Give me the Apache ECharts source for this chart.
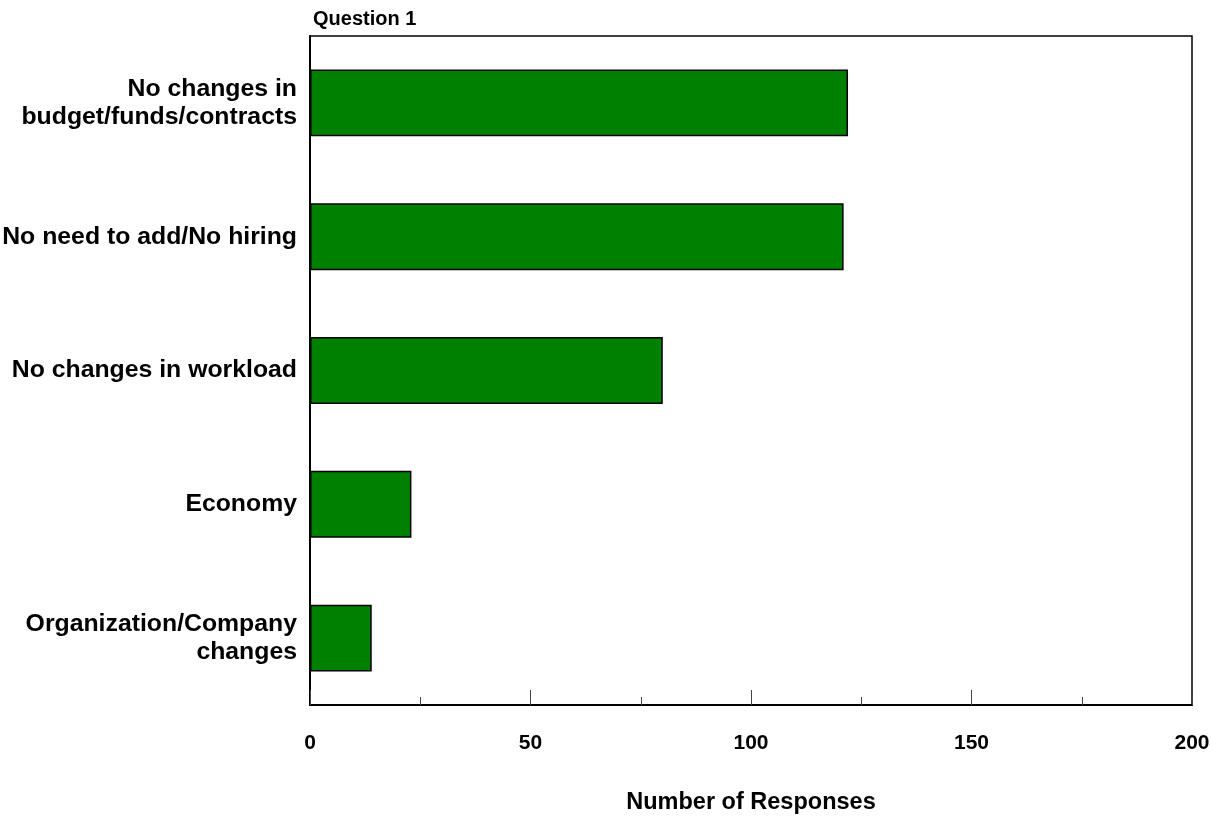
<!DOCTYPE html>
<html>
<head>
<meta charset="utf-8">
<script src="https://cdn.jsdelivr.net/npm/echarts@6/dist/echarts.min.js"></script>
<style>
  html, body { margin: 0; padding: 0; background: #ffffff; }
  #chart { width: 1212px; height: 817px; }
</style>
</head>
<body>
<div id="chart"></div>
<script>
// Reasons given, listed top to bottom
const categories = [
  'No changes in\nbudget/funds/contracts',
  'No need to add/No hiring',
  'No changes in workload',
  'Economy',
  'Organization/Company\nchanges'
];
const responses = [122, 121, 80, 23, 14];
const xTicks = [0, 50, 100, 150, 200];

const FONT = '"Liberation Sans", Arial, sans-serif';

const chart = echarts.init(document.getElementById('chart'), null, { renderer: 'canvas' });

chart.setOption({
  animation: false,
  backgroundColor: '#ffffff',
  title: {
    text: 'Question 1',
    left: 308,
    top: 4,
    textStyle: { fontFamily: FONT, fontWeight: 'bold', fontSize: 20, color: '#000' }
  },
  grid: {
    left: 310,
    right: 20,
    top: 36,
    bottom: 112,
    show: true,
    borderColor: '#000',
    borderWidth: 1.5,
    containLabel: false,
    outerBoundsMode: 'none'
  },
  xAxis: {
    type: 'value',
    min: xTicks[0],
    max: xTicks[xTicks.length - 1],
    interval: xTicks[1] - xTicks[0],
    name: 'Number of Responses',
    nameLocation: 'middle',
    nameGap: 86,
    nameTextStyle: { fontFamily: FONT, fontWeight: 'bold', fontSize: 23.5, color: '#000' },
    axisLine: { show: true, lineStyle: { color: '#000', width: 2 } },
    axisTick: { show: true, inside: true, length: 15, lineStyle: { color: '#444', width: 1 } },
    minorTick: { show: true, splitNumber: 2, length: 8, lineStyle: { color: '#444', width: 1 } },
    splitLine: { show: false },
    axisLabel: {
      margin: 28,
      fontFamily: FONT, fontWeight: 'bold', fontSize: 21, color: '#000',
      showMinLabel: true, showMaxLabel: true
    }
  },
  yAxis: {
    type: 'category',
    data: categories,
    inverse: true,
    axisLine: { show: true, lineStyle: { color: '#000', width: 2 } },
    axisTick: { show: false },
    splitLine: { show: false },
    axisLabel: {
      margin: 13,
      fontFamily: FONT, fontWeight: 'bold', fontSize: 24.8, lineHeight: 28,
      color: '#000', align: 'right'
    }
  },
  series: [{
    type: 'bar',
    data: responses,
    barCategoryGap: '50%',
    itemStyle: { color: '#008000', borderColor: '#000', borderWidth: 1.5 },
    emphasis: { disabled: true }
  }]
});
</script>
</body>
</html>
